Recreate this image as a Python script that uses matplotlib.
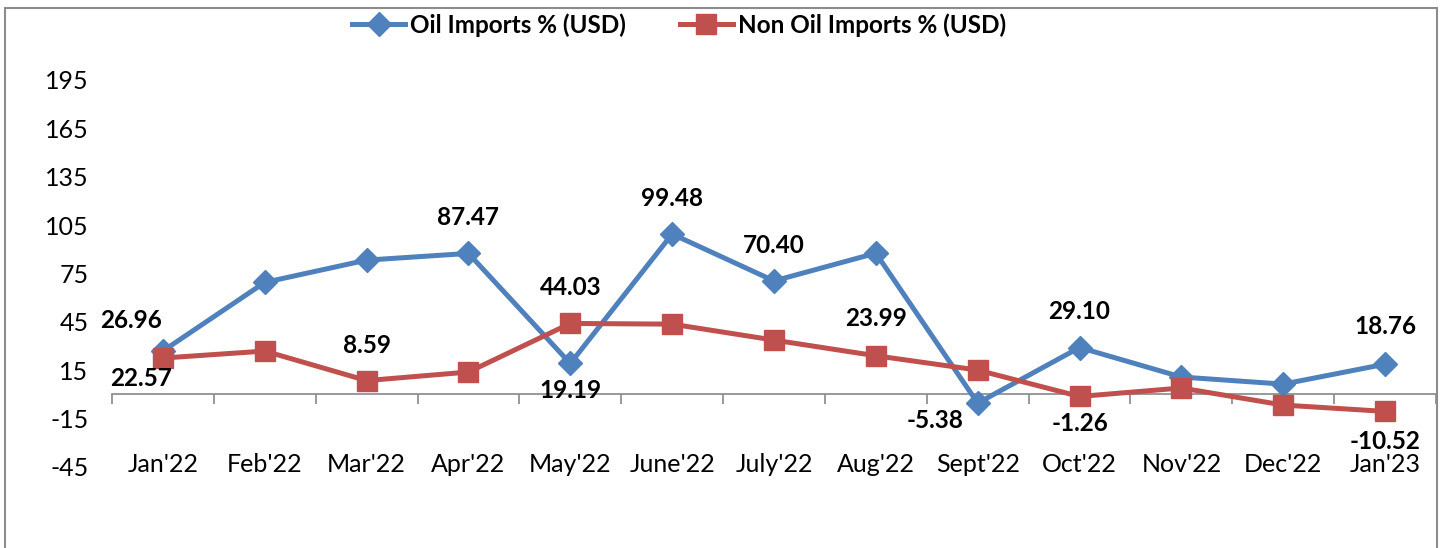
import matplotlib
matplotlib.use("Agg")
import matplotlib.pyplot as plt
from matplotlib.patches import Rectangle

plt.rcParams['font.family'] = ['Lato', 'DejaVu Sans']

months = ["Jan'22", "Feb'22", "Mar'22", "Apr'22", "May'22", "June'22", "July'22",
          "Aug'22", "Sept'22", "Oct'22", "Nov'22", "Dec'22", "Jan'23"]
oil = [26.96, 69.5, 83.3, 87.47, 19.19, 99.48, 70.40, 87.6, -5.38, 29.10, 10.8, 6.4, 18.76]
non_oil = [22.57, 26.9, 8.59, 13.9, 44.03, 43.6, 33.7, 23.99, 15.1, -1.26, 4.0, -6.6, -10.52]
yticks = [-45, -15, 15, 45, 75, 105, 135, 165, 195]

# which points carry a data label, and pixel offsets (dx, dy) for them
oil_labels = {0: (-32, 30), 3: (0, 36), 4: (0, -27), 5: (0, 36), 6: (0, 35), 8: (-43, -17), 9: (0, 36), 12: (0, 38)}
non_labels = {0: (-22, -20), 2: (0, 35), 4: (0, 36), 7: (0, 37), 9: (0, -27), 12: (0, -30)}

BLUE = '#4F81BD'
RED = '#C0504D'

W, H = 1442, 548
fig = plt.figure(figsize=(W / 100, H / 100), dpi=100)
ax = fig.add_axes([112 / W, (H - 467) / H, (1436 - 112) / W, (467 - 80) / H])

x = list(range(len(months)))
l1, = ax.plot(x, oil, color=BLUE, lw=3.6, marker='D', ms=12, label='Oil Imports % (USD)', zorder=3)
l2, = ax.plot(x, non_oil, color=RED, lw=3.6, marker='s', ms=14, label='Non Oil Imports % (USD)', zorder=4)

px = 0.72
for i, (dx, dy) in oil_labels.items():
    ax.annotate(f"{oil[i]:.2f}", (x[i], oil[i]), xytext=(dx * px, dy * px), textcoords='offset points',
                ha='center', va='center', fontsize=17.5, fontweight='bold', color='black', zorder=6)
for i, (dx, dy) in non_labels.items():
    ax.annotate(f"{non_oil[i]:.2f}", (x[i], non_oil[i]), xytext=(dx * px, dy * px), textcoords='offset points',
                ha='center', va='center', fontsize=17.5, fontweight='bold', color='black', zorder=6)

ax.set_xlim(-0.5, len(months) - 0.5)
ax.set_ylim(-45, 195)
ax.set_yticks(yticks)
ax.set_yticklabels([str(v) for v in yticks], fontsize=18)
ax.tick_params(axis='y', length=0, pad=17)

for s in ['top', 'right', 'left']:
    ax.spines[s].set_visible(False)
ax.spines['bottom'].set_position(('data', 0))
ax.spines['bottom'].set_color('#888888')
ax.spines['bottom'].set_linewidth(1.2)
ax.set_xticks(x)
ax.set_xticklabels(months, fontsize=18)
ax.tick_params(axis='x', which='major', length=0, pad=42)
ax.set_xticks([i - 0.5 for i in range(len(months) + 1)], minor=True)
ax.tick_params(axis='x', which='minor', length=7, width=1.2, color='#888888', direction='out')

fig.legend(handles=[l1, l2], loc='center', bbox_to_anchor=(679 / W, 1 - 25 / H), ncol=2,
           frameon=False, prop={'weight': 'bold', 'size': 17.5}, handlelength=2.2,
           handletextpad=0.2, columnspacing=2.2)

fig.patches.append(Rectangle((5 / W, -0.1), (1437 - 5) / W, 1.1 - 8 / H, transform=fig.transFigure,
                             fill=False, edgecolor='#8c8c8c', lw=1.5))

fig.savefig('out.png', dpi=100)
